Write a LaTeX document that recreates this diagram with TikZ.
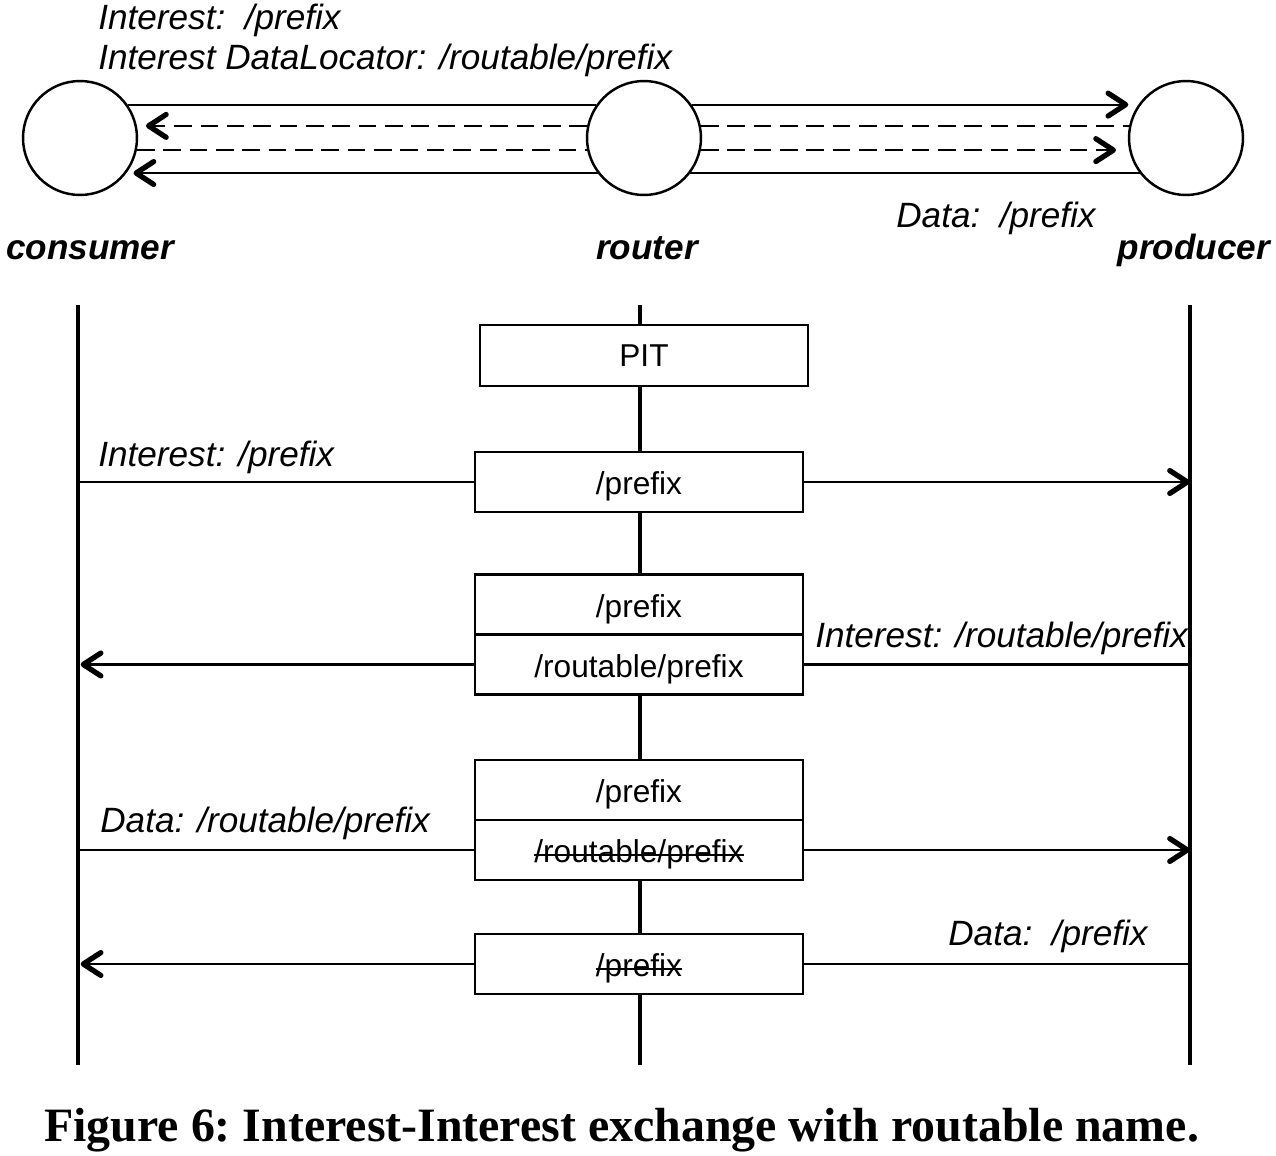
\documentclass[tikz,border=0pt]{standalone}
\usepackage{fontspec}
\setmainfont{Liberation Serif}
\setsansfont{Liberation Sans}
\usetikzlibrary{arrows.meta,positioning}

\newcommand{\strk}[1]{\leavevmode\setbox0=\hbox{#1}%
  \rlap{\vrule height \dimexpr0.45ex+0.55pt\relax depth \dimexpr-0.45ex+0.55pt\relax width \wd0}\box0}

\tikzset{
  peer/.style={circle,draw,line width=1.4pt,minimum size=2.28cm,inner sep=0pt},
  link/.style={line width=1.2pt},
  dlink/.style={line width=1.2pt,dash pattern=on 10pt off 5pt},
  life/.style={line width=2.8pt},
  tbl/.style={draw,fill=white,line width=1.6pt,minimum width=6.56cm,minimum height=1.2cm,
    inner sep=0pt,outer sep=0pt,font=\sffamily\fontsize{18}{21}\selectfont},
  entry/.style={tbl,text height=18.5pt,text depth=4pt},
  msg/.style={line width=1.2pt},
  lbl/.style={inner sep=0pt,font=\sffamily\itshape\fontsize{20}{24}\selectfont},
  actor/.style={inner sep=0pt,font=\sffamily\bfseries\itshape\fontsize{20}{24}\selectfont},
  >={Straight Barb[length=10pt,width=13pt,line width=3pt,round]}
}

\begin{document}
\begin{tikzpicture}[x=0.02cm,y=-0.02cm]
  \useasboundingbox (0,0) rectangle (1276,1156);
  % Peers
  \node[peer] (cons) at (80,138) {};
  \node[peer] (rtr) at (644,138) {};
  \node[peer] (prod) at (1186,138) {};
  % Links
  \draw[link] (cons.35) -- (rtr.145);
  \draw[dlink,->,shorten >=0.18cm] (rtr.168) -- (cons.12);
  \draw[dlink] (cons.-12) -- (rtr.-168);
  \draw[link,->,shorten >=0.14cm] (rtr.-143) -- (cons.-37);
  \draw[link,->,shorten >=0.2cm] (rtr.35) -- (prod.145);
  \draw[dlink] (rtr.12) -- (prod.168);
  \draw[dlink,->,shorten >=0.26cm] (rtr.-12) -- (prod.-168);
  \draw[link] (rtr.-37) -- (prod.-143);
  % Labels
  \node[lbl,anchor=base west] (int) at (98,30) {Interest:\ \ /prefix};
  \node[lbl,anchor=base west] (loc) at (98,70) {Interest DataLocator: /routable/prefix};
  \node[lbl,anchor=base west] (dat) at (896,227) {Data:\ \ /prefix};
  \node[actor,anchor=base] (ncons) at (90,259) {consumer};
  \node[actor,anchor=base] (nrtr) at (647,259) {router};
  \node[actor,anchor=base] (nprod) at (1194,259) {producer};
  % Lifelines
  \coordinate (cl) at (78,305);
  \coordinate (rl) at (640,305);
  \coordinate (pl) at (1190,305);
  \foreach \l in {cl,rl,pl} {
    \draw[life] (\l) -- ++(0,760);
  }
  % PIT entries
  \node[tbl,minimum height=1.22cm] (pit) at (644,355.5) {PIT};
  \node[entry] (b1) at (639,482) {/prefix};
  \node[entry] (b2a) at (639,604.5) {/prefix};
  \node[entry,below=0pt of b2a] (b2b) {/routable/prefix};
  \node[entry] (b3a) at (639,790) {/prefix};
  \node[entry,below=0pt of b3a] (b3b) {\strk{/routable/prefix}};
  \node[entry] (b4) at (639,964) {\strk{/prefix}};
  % Messages
  \draw[msg] (cl |- b1.west) -- (b1.west);
  \draw[msg,->] (b1.east) -- (pl |- b1.east);
  \draw[msg,->,shorten >=1.5pt] (b2b.west) -- (cl |- b2b.west);
  \draw[msg] (pl |- b2b.east) -- (b2b.east);
  \draw[msg] (cl |- b3b.west) -- (b3b.west);
  \draw[msg,->] (b3b.east) -- (pl |- b3b.east);
  \draw[msg,->,shorten >=1.5pt] (b4.west) -- (cl |- b4.west);
  \draw[msg] (pl |- b4.east) -- (b4.east);
  \node[lbl,anchor=base west] (m1) at (98,466) {Interest: /prefix};
  \node[lbl,anchor=base west] (m2) at (815,647) {Interest: /routable/prefix};
  \node[lbl,anchor=base west] (m3) at (100,832) {Data: /routable/prefix};
  \node[lbl,anchor=base west] (m4) at (948,945) {Data:\ \ /prefix};
  % Caption
  \node[inner sep=0pt,anchor=base west,font=\frenchspacing\bfseries\fontsize{27.25}{32}\selectfont] (cap) at (44,1141)
    {Figure 6: Interest-Interest exchange with routable name.};
\end{tikzpicture}
\end{document}
